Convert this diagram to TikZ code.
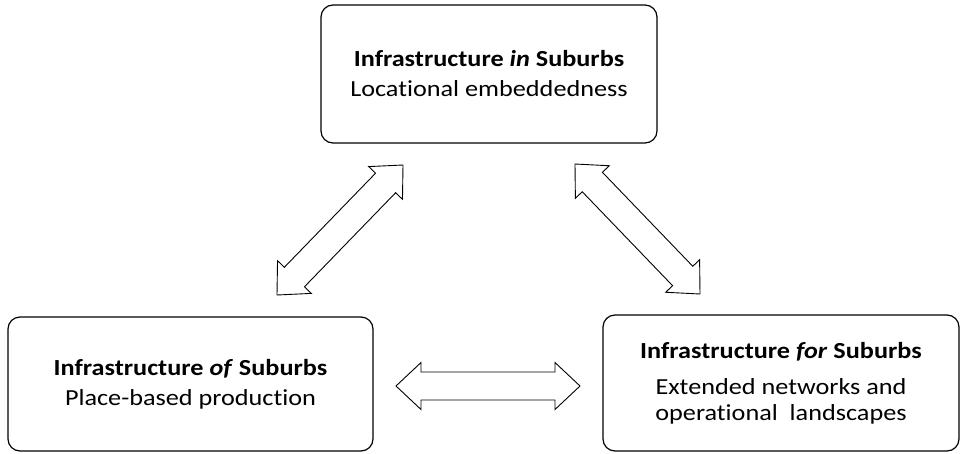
\documentclass[tikz,border=0pt]{standalone}
\usepackage{fontspec}
\setmainfont{Carlito}[FakeStretch=1.14, Ligatures=NoCommon]
\usetikzlibrary{calc}

\tikzset{
  suburb box/.style={draw, rounded corners=12pt, line width=1.2pt, align=center,
    inner sep=0pt, font=\fontsize{23}{26}\selectfont},
  block arrow/.style={draw, line width=0.9pt, fill=white, line join=miter},
}

% double block arrow between two tip coordinates
\newcommand{\blockarrow}[2]{%
  \path ($(#1)!25pt!(#2)$) coordinate (#1-h) ($(#2)!25pt!(#1)$) coordinate (#2-h);
  \draw[block arrow] (#1)
    -- ($(#1-h)!23.5pt!90:(#2)$) -- ($(#1-h)!14pt!90:(#2)$)
    -- ($(#2-h)!14pt!-90:(#1)$) -- ($(#2-h)!23.5pt!-90:(#1)$)
    -- (#2)
    -- ($(#2-h)!23.5pt!90:(#1)$) -- ($(#2-h)!14pt!90:(#1)$)
    -- ($(#1-h)!14pt!-90:(#2)$) -- ($(#1-h)!23.5pt!-90:(#2)$)
    -- cycle;}

\begin{document}
\begin{tikzpicture}[x=1pt, y=-1pt]

  \useasboundingbox (0,0) rectangle (962,453);

  % boxes
  \node [suburb box, minimum width=336pt, minimum height=138pt] (in) at (489,74)
    {\textbf{Infrastructure \textit{in} Suburbs}\\[4pt]Locational embeddedness};
  \node [suburb box, minimum width=365pt, minimum height=134pt] (of) at (190.5,384)
    {\textbf{Infrastructure \textit{of} Suburbs}\\[4pt]Place-based production};
  \node [suburb box, minimum width=356pt, minimum height=136pt] (for) at (781,383)
    {\textbf{Infrastructure \textit{for} Suburbs}\\[10pt]Extended networks and\\operational\ \ landscapes};

  % arrow tips
  \coordinate (of-in)  at (277,295);
  \coordinate (in-of)  at (403,165);
  \coordinate (in-for) at (575,164);
  \coordinate (for-in) at (700,294);
  \coordinate (of-for) at (396,386);
  \coordinate (for-of) at (580,386);

  \blockarrow{of-in}{in-of}
  \blockarrow{in-for}{for-in}
  \blockarrow{of-for}{for-of}

\end{tikzpicture}
\end{document}
